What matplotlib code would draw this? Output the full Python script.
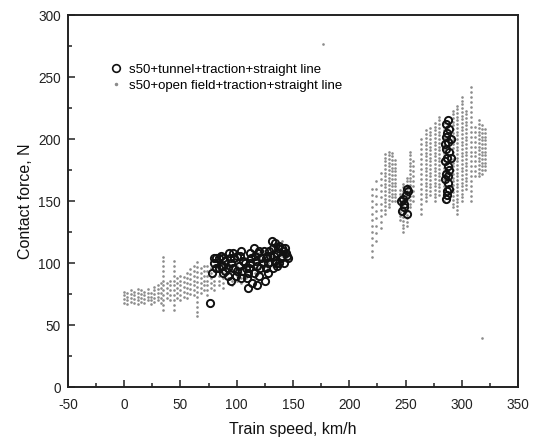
import matplotlib
matplotlib.use("Agg")
import matplotlib.pyplot as plt
from matplotlib.ticker import MultipleLocator
from matplotlib.lines import Line2D

plt.rcParams['font.family'] = ['Liberation Sans', 'DejaVu Sans']
plt.rcParams['axes.unicode_minus'] = False

# ---------------- data ----------------
# open field: columns of points (speed km/h -> contact forces N)
open_col_speed = [0, 3, 6, 9, 12, 15, 18, 21, 24, 27, 30, 33, 35, 38, 41, 44, 47, 50, 53, 56,
                  59, 62, 65, 68, 71, 74, 77, 80, 84, 88, 92, 96, 100, 104, 108, 112, 116, 120,
                  124, 128, 132, 136, 140, 144,
                  220, 224, 228, 232, 235, 238, 241, 245, 248, 251, 254, 257, 264, 268, 272, 276,
                  280, 284, 292, 296, 300, 304, 308, 312, 315, 318, 321]
open_col_force = [
    [68, 71, 74, 77], [67, 70, 73, 76], [69, 72, 75, 78], [68, 71, 74, 77],
    [67, 70, 73, 76, 79], [69, 72, 75, 78], [68, 71, 74, 77], [70, 73, 76, 79],
    [67, 70, 73, 76], [69, 72, 75, 78, 81], [70, 73, 76, 79, 82], [68, 72, 76, 80, 84],
    [62, 66, 70, 74, 78, 82, 86, 90, 94, 98, 102, 105], [72, 76, 80, 84], [70, 74, 78, 82, 86],
    [62, 66, 70, 74, 78, 82, 86, 90, 94, 98, 102], [72, 76, 80, 84, 88], [70, 74, 78, 82, 86, 90],
    [73, 77, 81, 85, 89], [72, 76, 80, 84, 88, 92], [75, 79, 83, 87, 91, 95],
    [74, 78, 82, 86, 90, 94, 98], [57, 61, 65, 69, 73, 77, 81, 85, 89, 93, 97, 101],
    [76, 80, 84, 88, 92, 96], [78, 82, 86, 90, 94, 98], [74, 78, 82, 86, 90, 94, 98],
    [80, 84, 88, 92, 96], [78, 82, 86, 90, 94, 98, 102], [82, 86, 90, 94, 98],
    [80, 84, 88, 92, 96, 100], [84, 88, 92, 96, 100], [82, 86, 90, 94, 98, 102],
    [86, 90, 94, 98, 102], [84, 88, 92, 96, 100, 104], [88, 92, 96, 100, 104],
    [90, 94, 98, 102, 106], [88, 92, 96, 100, 104, 108], [92, 96, 100, 104, 108],
    [94, 98, 102, 106, 110], [96, 100, 104, 108, 112], [98, 102, 106, 110, 114],
    [100, 104, 108, 112, 116], [102, 106, 110, 114, 118], [104, 108, 112],
    [105, 110, 115, 120, 125, 130, 135, 140, 145, 150, 155, 160],
    [118, 124, 130, 136, 142, 148, 154, 160, 166],
    [128, 133, 138, 143, 148, 153, 158, 163, 168, 173],
    [140, 143, 146, 149, 152, 155, 158, 161, 164, 167, 170, 173, 176, 179, 182, 185, 188],
    [145, 148, 151, 154, 157, 160, 163, 166, 169, 172, 175, 178, 181, 184, 187, 190],
    [150, 153, 156, 159, 162, 165, 168, 171, 174, 177, 180, 183, 186, 189],
    [150, 153, 156, 159, 162, 165, 168, 171, 174, 177, 180, 183],
    [135, 138, 141, 144, 147, 150, 153, 156, 159],
    [125, 128, 131, 134, 137, 140, 143, 146, 149, 152, 155, 158, 161, 164],
    [130, 133, 136, 139, 142, 145, 148, 151, 154, 157, 160, 163, 166, 169],
    [145, 148, 151, 154, 157, 160, 163, 166, 169, 172, 175, 178, 181, 184, 187, 190],
    [150, 154, 158, 162, 166, 170, 174, 178, 182],
    [140, 144, 148, 152, 156, 160, 164, 168, 172, 176, 180, 184, 188, 192, 196, 200],
    [150, 153, 156, 159, 162, 165, 168, 171, 174, 177, 180, 183, 186, 189, 192, 195, 198, 201, 204, 207],
    [155, 158, 161, 164, 167, 170, 173, 176, 179, 182, 185, 188, 191, 194, 197, 200, 203, 206, 209],
    [150, 153, 156, 159, 162, 165, 168, 171, 174, 177, 180, 183, 186, 189, 192, 195, 198, 201, 204, 207, 210, 213],
    [155, 158, 161, 164, 167, 170, 173, 176, 179, 182, 185, 188, 191, 194, 197, 200, 203, 206, 209, 212, 215, 218],
    [150, 153, 156, 159, 162, 165, 168, 171, 174, 177, 180, 183, 186, 189, 192, 195, 198, 201, 204, 207, 210, 213],
    [145, 148, 151, 154, 157, 160, 163, 166, 169, 172, 175, 178, 181, 184, 187, 190, 193, 196, 199, 202, 205, 208, 211, 214, 217, 220, 223],
    [140, 143, 146, 149, 152, 155, 158, 161, 164, 167, 170, 173, 176, 179, 182, 185, 188, 191, 194, 197, 200, 203, 206, 209, 212, 215, 218, 221, 224, 227],
    [150, 153, 156, 159, 162, 165, 168, 171, 174, 177, 180, 183, 186, 189, 192, 195, 198, 201, 204, 207, 210, 213, 216, 219, 222, 225, 228, 231, 234],
    [160, 163, 166, 169, 172, 175, 178, 181, 184, 187, 190, 193, 196, 199, 202, 205, 208, 211, 214, 217, 220, 223],
    [150, 154, 158, 162, 166, 170, 174, 178, 182, 186, 190, 194, 198, 202, 206, 210, 214, 218, 222, 226, 230, 234, 238, 242],
    [170, 174, 178, 182, 186, 190, 194, 198, 202, 206, 210],
    [170, 173, 176, 179, 182, 185, 188, 191, 194, 197, 200, 203, 206, 209, 212, 215],
    [172, 175, 178, 181, 184, 187, 190, 193, 196, 199, 202, 205, 208, 211],
    [175, 178, 181, 184, 187, 190, 193, 196, 199, 202, 205, 208],
]
open_extra_speed = [318, 177]
open_extra_force = [40, 277]

# tunnel points (open circles)
tunnel_speed = [76, 78, 80, 82, 84, 86, 88, 90, 92, 95, 98, 100, 102, 104, 106, 108, 110, 112,
                114, 116, 118, 120, 122, 124, 126, 128, 130, 132, 134, 136, 138, 140, 142, 144,
                146, 134, 128, 118, 110, 95, 100, 88, 82, 92, 105, 112, 120, 125, 136, 140, 131,
                84, 86, 90, 94, 97, 99, 103, 107, 109, 111, 113, 115, 117, 119, 121, 123, 127,
                129, 133, 135, 137, 139, 141, 143, 145, 132, 138, 126, 115, 104, 97, 93, 88, 80,
                247, 249, 250, 248, 251, 252, 246, 249, 251,
                286, 287, 288, 286, 288, 287, 286, 288, 287, 286, 289, 289, 289, 290, 285, 285,
                285, 288, 290, 287, 289, 286, 288]
tunnel_force = [68, 92, 100, 96, 104, 98, 92, 102, 96, 100, 104, 94, 98, 88, 102, 96, 92, 100,
                84, 106, 98, 90, 104, 110, 96, 100, 106, 112, 102, 108, 114, 106, 100, 108,
                104, 116, 92, 82, 80, 86, 106, 104, 104, 90, 94, 108, 110, 86, 98, 112, 118,
                96, 106, 94, 104, 96, 90, 106, 100, 88, 96, 104, 92, 102, 108, 96, 100, 106,
                110, 106, 100, 112, 104, 110, 112, 106, 96, 100, 104, 112, 110, 108, 108, 98, 104,
                142, 148, 155, 152, 140, 158, 150, 145, 160,
                152, 158, 165, 172, 178, 185, 192, 198, 205, 212, 160, 175, 190, 200, 168, 182,
                196, 215, 185, 155, 208, 202, 170]

x_ticks = [-50, 0, 50, 100, 150, 200, 250, 300, 350]
y_ticks = [0, 50, 100, 150, 200, 250, 300]
label_tunnel = "s50+tunnel+traction+straight line"
label_open = "s50+open field+traction+straight line"

# ---------------- plot ----------------
fig = plt.figure(figsize=(5.38, 4.43), dpi=100)
ax = fig.add_axes([0.126, 0.126, 0.837, 0.840])

ox, oy = [], []
for s, fs in zip(open_col_speed, open_col_force):
    for f in fs:
        ox.append(s)
        oy.append(f)
ox += open_extra_speed
oy += open_extra_force

ax.plot(ox, oy, linestyle='none', marker='.', markersize=3.8, color='#8c8c8c',
        markeredgewidth=0)
ax.plot(tunnel_speed, tunnel_force, linestyle='none', marker='o', markersize=5.2,
        markerfacecolor='none', markeredgecolor='#111111', markeredgewidth=1.4)

ax.set_xlim(-50, 350)
ax.set_ylim(0, 300)
ax.set_xticks(x_ticks)
ax.set_yticks(y_ticks)
ax.xaxis.set_minor_locator(MultipleLocator(25))
ax.yaxis.set_minor_locator(MultipleLocator(25))
ax.tick_params(which='both', direction='in', top=False, right=False, colors='#222222',
               labelsize=9.8, width=1.1)
ax.tick_params(axis='x', which='major', pad=8)
ax.tick_params(axis='y', which='major', pad=5)
ax.tick_params(which='major', length=5)
ax.tick_params(which='minor', length=3)
for sp in ax.spines.values():
    sp.set_linewidth(1.4)
    sp.set_color('#222222')

ax.set_xlabel("Train speed, km/h", fontsize=11.5, color='#111111', labelpad=7)
ax.set_ylabel("Contact force, N", fontsize=11.5, color='#111111', labelpad=4)

handles = [Line2D([], [], linestyle='none', marker='o', markersize=5.5, markerfacecolor='none',
                  markeredgecolor='#111111', markeredgewidth=1.2),
           Line2D([], [], linestyle='none', marker='.', markersize=3, color='#8c8c8c')]
ax.legend(handles, [label_tunnel, label_open], loc='upper left',
          bbox_to_anchor=(0.08, 0.884), frameon=False, fontsize=9.5, handlelength=1.0,
          handletextpad=0.5, labelspacing=0.3, borderaxespad=0)

fig.savefig("out.png", dpi=100)
